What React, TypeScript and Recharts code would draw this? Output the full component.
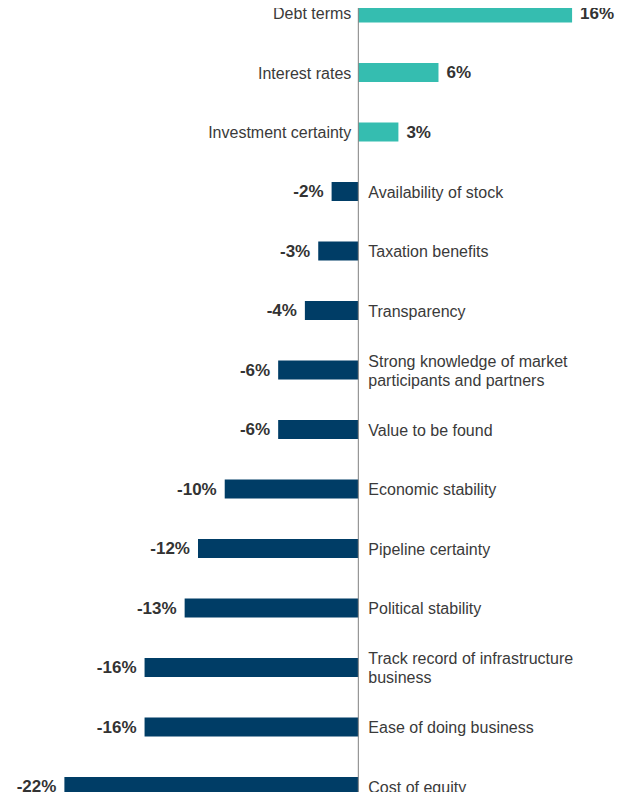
import React from 'react';
import { BarChart, Bar, XAxis, YAxis, ReferenceLine } from 'recharts';

const categories = [
  'Debt terms',
  'Interest rates',
  'Investment certainty',
  'Availability of stock',
  'Taxation benefits',
  'Transparency',
  'Strong knowledge of market|participants and partners',
  'Value to be found',
  'Economic stability',
  'Pipeline certainty',
  'Political stability',
  'Track record of infrastructure|business',
  'Ease of doing business',
  'Cost of equity',
];
const values = [16, 6, 3, -2, -3, -4, -6, -6, -10, -12, -13, -16, -16, -22];

const POS_COLOR = '#35BDB0';
const NEG_COLOR = '#003D66';
const TEXT_COLOR = '#3a3a3a';

const data = categories.map((name, i) => ({ name, value: values[i] }));

// draws the bar plus its category label and value label
const BarWithLabels: React.FC<any> = (props) => {
  const { x, y, width, height, payload } = props;
  const left = Math.min(x, x + width);
  const w = Math.abs(width);
  const cy = y + height / 2;
  const positive = payload.value >= 0;
  const zeroX = positive ? left : left + w;
  const lines: string[] = payload.name.split('|');
  const lineH = 19;
  const startY = cy - ((lines.length - 1) * lineH) / 2;

  return (
    <g>
      <rect x={left} y={y} width={w} height={height} fill={positive ? POS_COLOR : NEG_COLOR} />
      <text
        x={positive ? zeroX - 7 : zeroX + 10}
        y={startY}
        textAnchor={positive ? 'end' : 'start'}
        dominantBaseline="central"
        fontSize={16}
        fill={TEXT_COLOR}
        fontFamily="'Liberation Sans', Arial, sans-serif"
      >
        {lines.map((l, i) => (
          <tspan key={i} x={positive ? zeroX - 7 : zeroX + 10} y={startY + i * lineH}>
            {l}
          </tspan>
        ))}
      </text>
      <text
        x={positive ? left + w + 8 : left - 8}
        y={cy}
        textAnchor={positive ? 'start' : 'end'}
        dominantBaseline="central"
        fontSize={17}
        fontWeight="bold"
        fill="#333"
        fontFamily="'Liberation Sans', Arial, sans-serif"
      >
        {`${payload.value}%`}
      </text>
    </g>
  );
};

const App: React.FC = () => {
  return (
    <div style={{ margin: -8, width: 631, height: 800, overflow: 'hidden', background: '#fff' }}>
      <BarChart
        width={631}
        height={800}
        data={data}
        layout="vertical"
        margin={{ top: -16.5, right: 0, bottom: -16.5, left: 0 }}
      >
        <XAxis type="number" hide domain={[-26.82, 20.41]} allowDataOverflow />
        <YAxis type="category" dataKey="name" hide />
        <ReferenceLine x={0} stroke="#808080" strokeWidth={1} />
        <Bar dataKey="value" barSize={19} isAnimationActive={false} shape={<BarWithLabels />} />
      </BarChart>
    </div>
  );
};

export default App;
